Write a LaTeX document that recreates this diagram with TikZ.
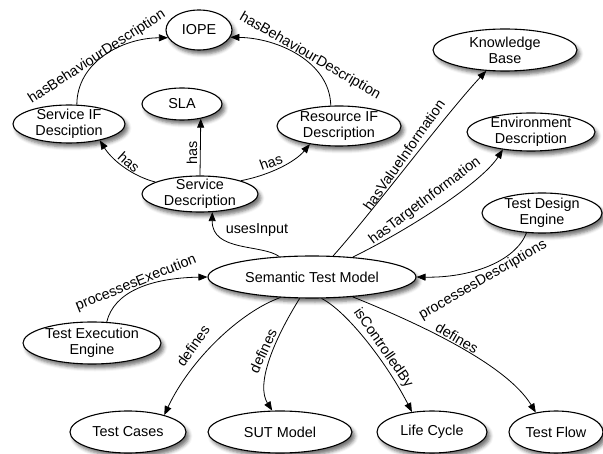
\documentclass[tikz,border=0pt]{standalone}
\usepackage{fontspec}
\setmainfont{Liberation Sans}
\usetikzlibrary{shapes.geometric,arrows.meta,shadows.blur}
\begin{document}
\begin{tikzpicture}[x=1pt,y=-1pt,
  concept/.style={ellipse, draw=black, line width=1.1pt, fill=white,
    inner sep=-6pt, align=center, font=\fontsize{14.4}{16}\selectfont,
    blur shadow={shadow xshift=3pt, shadow yshift=-4pt,
      shadow blur radius=3.5pt, shadow opacity=55}},
  rel/.style={draw=black, line width=0.8pt, -{Triangle[length=9pt,width=7pt]}},
  lbl/.style={font=\fontsize{14.4}{16}\selectfont, inner sep=0pt}
]
\useasboundingbox (0,0) rectangle (603,454);

% concepts
\node[concept, minimum width=66pt,  minimum height=40pt] (iope) at (199,30)  {IOPE};
\node[concept, minimum width=144pt, minimum height=42pt] (kb)   at (505,50)  {Knowledge\\Base};
\node[concept, minimum width=80pt,  minimum height=32pt] (sla)  at (182,104) {SLA};
\node[concept, minimum width=128pt, minimum height=38pt] (env)  at (531,132) {Environment\\Description};
\node[concept, minimum width=112pt, minimum height=38pt] (sif)  at (69,124)  {Service IF\\Desciption};
\node[concept, minimum width=124pt, minimum height=40pt] (rif)  at (339,126) {Resource IF\\Description};
\node[concept, minimum width=116pt, minimum height=36pt] (sd)   at (200,194) {Service\\Description};
\node[concept, minimum width=120pt, minimum height=40pt] (tde)  at (542,213) {Test Design\\Engine};
\node[concept, minimum width=208pt, minimum height=42pt] (stm)  at (312,277) {Semantic Test Model};
\node[concept, minimum width=138pt, minimum height=42pt] (tee)  at (92,343)  {Test Execution\\Engine};
\node[concept, minimum width=116pt, minimum height=42pt] (tc)   at (128,432) {Test Cases};
\node[concept, minimum width=144pt, minimum height=42pt] (sut)  at (280,432) {SUT Model};
\node[concept, minimum width=110pt, minimum height=42pt] (lc)   at (432,432) {Life Cycle};
\node[concept, minimum width=94pt,  minimum height=42pt] (tf)   at (556,432) {Test Flow};

% relations
\draw[rel] (sif.68)  .. controls (77,62)   and (122,38)  .. (iope.194);
\draw[rel] (rif.112) .. controls (330,62)  and (278,38)  .. (iope.-13);
\draw[rel] (sd.165)  .. controls (132,176) and (112,160) .. (sif.-28);
\draw[rel] (sd.north) -- (sla.-38);
\draw[rel] (sd.18)   .. controls (270,175) and (295,162) .. (rif.212);
\draw[rel] (stm.148) .. controls (262,244) and (212,252) .. (sd.-56);
\draw[rel] (stm.45)  .. controls (370,215) and (445,115) .. (kb.228);
\draw[rel] (stm.26)  .. controls (412,228) and (482,182) .. (env.212);
\draw[rel] (tde.232) .. controls (515,262) and (470,278) .. (stm.east);
\draw[rel] (tee.55)  .. controls (114,292) and (150,278) .. (stm.west);
\draw[rel] (stm.213) .. controls (240,312) and (190,360) .. (tc.25);
\draw[rel] (stm.240) .. controls (272,343) and (256,385) .. (sut.110);
\draw[rel] (stm.-66) .. controls (348,312) and (388,365) .. (lc.135);
\draw[rel] (stm.-26) .. controls (410,320) and (505,362) .. (tf.136);

% relation names
\node[lbl, rotate=33]  (l1)  at (97,57)   {hasBehaviourDescription};
\node[lbl, rotate=-30] (l2)  at (310,56)  {hasBehaviourDescription};
\node[lbl, rotate=-42] (l3)  at (129,162) {has};
\node[lbl, rotate=90]  (l4)  at (192,153) {has};
\node[lbl, rotate=20]  (l5)  at (271,162) {has};
\node[lbl]             (l6)  at (257,230) {usesInput};
\node[lbl, rotate=55]  (l7)  at (404,155) {hasValueInformation};
\node[lbl, rotate=37]  (l8)  at (425,201) {hasTargetInformation};
\node[lbl, rotate=30]  (l9)  at (483,280) {processesDescriptions};
\node[lbl, rotate=22]  (l10) at (136,283) {processesExecution};
\node[lbl, rotate=55]  (l11) at (193,346) {defines};
\node[lbl, rotate=65]  (l12) at (263,351) {defines};
\node[lbl, rotate=-55] (l13) at (383,348) {isControlledBy};
\node[lbl, rotate=-30] (l14) at (457,338) {defines};
\end{tikzpicture}
\end{document}
